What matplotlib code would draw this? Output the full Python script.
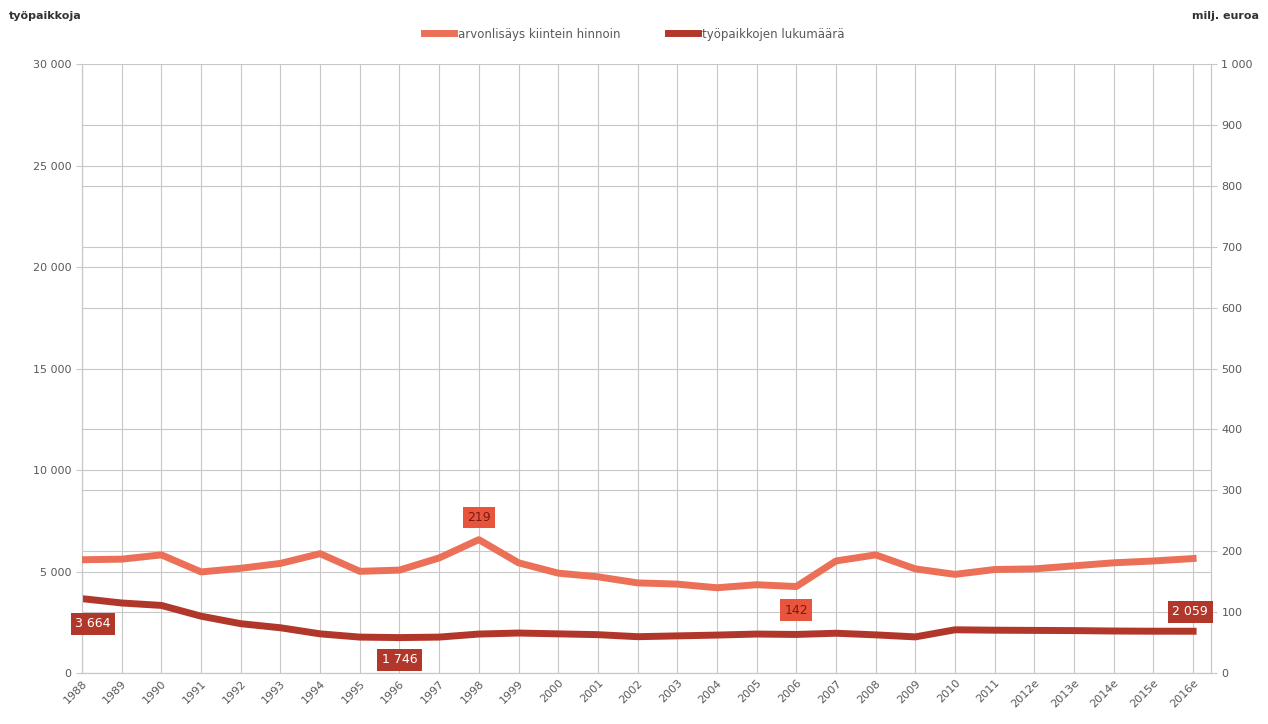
import matplotlib.pyplot as plt
import matplotlib.ticker as mticker

# vuodet (e = ennuste)
vuodet = ["1988", "1989", "1990", "1991", "1992", "1993", "1994", "1995", "1996",
          "1997", "1998", "1999", "2000", "2001", "2002", "2003", "2004", "2005",
          "2006", "2007", "2008", "2009", "2010", "2011", "2012e", "2013e",
          "2014e", "2015e", "2016e"]

# työpaikkojen lukumäärä (vasen akseli)
tyopaikat = [3664, 3450, 3330, 2800, 2430, 2230, 1930, 1770, 1746, 1770, 1920,
             1970, 1930, 1890, 1790, 1830, 1870, 1920, 1900, 1960, 1880, 1780,
             2130, 2110, 2100, 2090, 2070, 2060, 2059]

# arvonlisäys kiintein hinnoin, milj. euroa (oikea akseli)
arvonlisays = [186, 187, 194, 166, 172, 180, 196, 167, 169, 189, 219, 181, 164,
               158, 148, 146, 140, 145, 142, 184, 194, 171, 162, 170, 171, 176,
               181, 184, 188]

vaalea = "#EC6F57"
tumma = "#B2372B"
harmaa = "#C8C8C8"
tekstiharmaa = "#595959"

fig = plt.figure(figsize=(12.68, 7.24), dpi=100)
ax = fig.add_axes([0.0647, 0.0704, 0.8903, 0.8412])
ax2 = ax.twinx()

x = list(range(len(vuodet)))

ax.set_ylim(0, 30000)
ax2.set_ylim(0, 1000)
ax.set_xlim(0, len(vuodet) - 1 + 0.45)

oikeat = list(range(0, 1001, 100))
ax.set_yticks(range(0, 30001, 5000))
ax2.set_yticks(oikeat)
# oikean akselin ruudukko piirretään vasempaan akseliin (alimmaksi)
ax.set_yticks([v * 30 for v in oikeat], minor=True)
fmt = mticker.FuncFormatter(lambda v, p: f"{int(v):,}".replace(",", " "))
ax.yaxis.set_major_formatter(fmt)
ax2.yaxis.set_major_formatter(fmt)

ax.set_xticks(x)
ax.set_xticklabels(vuodet, rotation=45, ha="right", rotation_mode="anchor")

# ruudukko
ax.grid(True, which="both", color=harmaa, linewidth=0.8)
ax.set_axisbelow(True)

for a in (ax, ax2):
    a.tick_params(colors=tekstiharmaa, labelsize=8, length=4, width=0.8)
    a.tick_params(axis="y", colors=harmaa, labelcolor=tekstiharmaa)
    a.tick_params(axis="x", length=0, labelcolor=tekstiharmaa)
    for s in a.spines.values():
        s.set_color(harmaa)
    a.spines["top"].set_visible(False)
ax.tick_params(axis="y", which="minor", length=0)

ax.plot(x, tyopaikat, color=tumma, linewidth=5, solid_joinstyle="round", zorder=3)
l2, = ax2.plot(x, arvonlisays, color=vaalea, linewidth=5, solid_joinstyle="round",
               label="arvonlisäys kiintein hinnoin", zorder=3)
l1, = ax2.plot([], [], color=tumma, linewidth=5, label="työpaikkojen lukumäärä")


def laatikko(a, xi, yi, teksti, tausta, vari, dx, dy):
    a.annotate(teksti, (xi, yi), xytext=(dx, dy), textcoords="offset points",
               ha="center", va="center", fontsize=9, color=vari, zorder=5,
               bbox=dict(boxstyle="square,pad=0.35", fc=tausta, ec="none"))


fi = lambda v: f"{v:,}".replace(",", " ")
laatikko(ax2, 10, arvonlisays[10], str(arvonlisays[10]), "#E8553C", "#7A1A10", 0, 16)
laatikko(ax2, 18, arvonlisays[18], str(arvonlisays[18]), "#E8553C", "#7A1A10", 0, -17)
laatikko(ax2, 0, tyopaikat[0] / 30, fi(tyopaikat[0]), tumma, "white", 8, -18)
laatikko(ax2, 8, tyopaikat[8] / 30, fi(tyopaikat[8]), tumma, "white", 0, -16)
laatikko(ax2, 28, tyopaikat[28] / 30, fi(tyopaikat[28]), tumma, "white", -2, 14)

fig.legend(handles=[l2, l1], loc="center", bbox_to_anchor=(0.5, 0.953), ncol=2,
           frameon=False, fontsize=8.5, handlelength=2.6, handletextpad=0.3,
           columnspacing=4, labelcolor=tekstiharmaa)

fig.text(0.007, 0.978, "työpaikkoja", fontsize=8, fontweight="bold",
         color="#333333", ha="left", va="center")
fig.text(0.993, 0.978, "milj. euroa", fontsize=8, fontweight="bold",
         color="#333333", ha="right", va="center")

fig.savefig("out.png", dpi=100)
